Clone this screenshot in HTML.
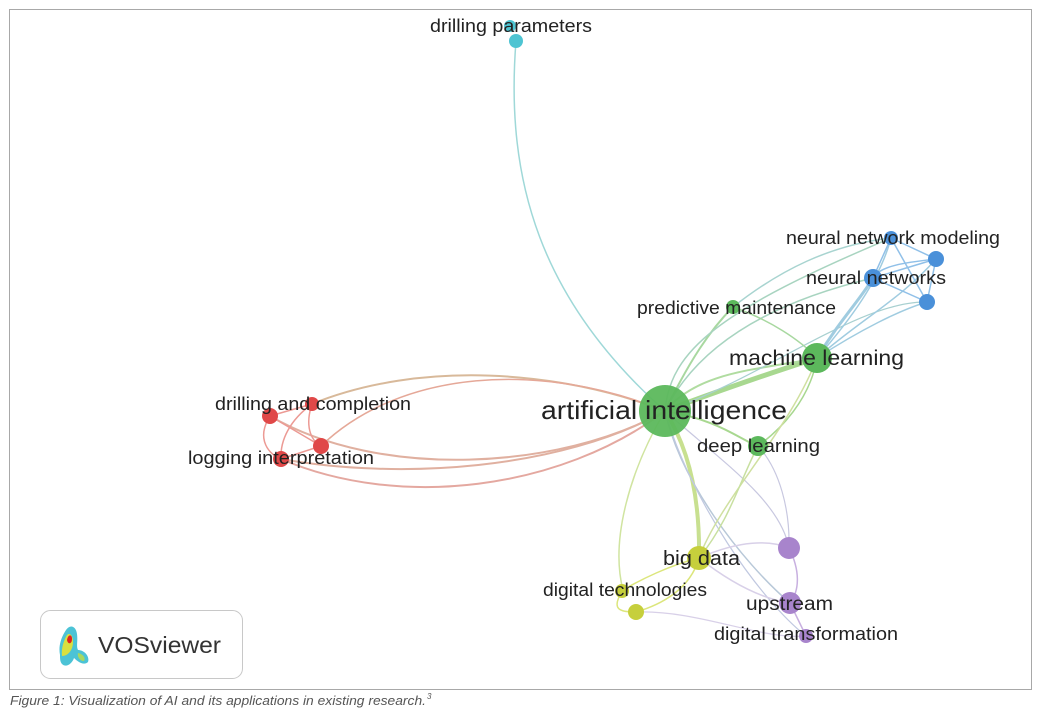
<!DOCTYPE html>
<html><head><meta charset="utf-8"><style>
html,body{margin:0;padding:0;background:#fff;}
body{width:1046px;height:720px;overflow:hidden;position:relative;font-family:"Liberation Sans",sans-serif;}
</style></head><body>
<svg width="1046" height="720" viewBox="0 0 1046 720" xmlns="http://www.w3.org/2000/svg" style="position:absolute;left:0;top:0">
<rect x="9.5" y="9.5" width="1022" height="680" fill="#fff" stroke="#a8a8a8" stroke-width="1"/>
<g fill="none" stroke-linecap="round">
<path d="M516,41 C505,180 540,300 665,411" stroke="#9fd8d8" stroke-width="1.5"/>
<path d="M312,404 C420,360 560,370 665,411" stroke="#d8b99a" stroke-width="2"/>
<path d="M321,446 C400,370 540,360 665,411" stroke="#e5a898" stroke-width="1.5"/>
<path d="M270,416 C380,480 560,470 665,411" stroke="#e0b0a0" stroke-width="2"/>
<path d="M281,459 C400,480 560,470 665,411" stroke="#e0b0a0" stroke-width="2"/>
<path d="M281,459 C400,510 560,490 665,411" stroke="#e4a8a0" stroke-width="2"/>
<path d="M270,416 L312,404 M270,416 L321,446 M270,416 C255,440 270,455 281,459 M312,404 C305,425 310,440 321,446 M312,404 C290,420 280,440 281,459 M321,446 L281,459" stroke="#ec9a94" stroke-width="1.5"/>
<path d="M665,411 C720,390 780,370 817,358" stroke="#a8d890" stroke-width="5"/>
<path d="M665,411 C700,370 760,370 817,358" stroke="#b0dca0" stroke-width="2"/>
<path d="M665,411 C690,360 710,330 733,307" stroke="#a8d8a0" stroke-width="2"/>
<path d="M665,411 C670,350 720,310 891,238" stroke="#a8d4c0" stroke-width="1.5"/>
<path d="M665,411 C700,340 780,300 873,278" stroke="#a8d4c0" stroke-width="1.5"/>
<path d="M665,411 C760,380 860,300 927,302" stroke="#a8d0d0" stroke-width="1.2"/>
<path d="M665,411 C720,420 740,440 758,446" stroke="#a8d890" stroke-width="2"/>
<path d="M665,411 C690,450 700,500 699,558" stroke="#c8e090" stroke-width="4"/>
<path d="M665,411 C630,470 610,540 623,590" stroke="#d0e4a0" stroke-width="1.5"/>
<path d="M665,411 C680,480 740,560 790,603" stroke="#b8c8d8" stroke-width="1.5"/>
<path d="M665,411 C690,500 760,600 806,636" stroke="#c0c8e0" stroke-width="1.2"/>
<path d="M665,411 C720,460 780,500 789,548" stroke="#c8c8e0" stroke-width="1.2"/>
<path d="M733,307 C770,320 800,340 817,358" stroke="#a8d8a0" stroke-width="1.5"/>
<path d="M733,307 C780,270 830,245 891,238" stroke="#a8d4d0" stroke-width="1.5"/>
<path d="M817,358 C810,400 780,430 758,446" stroke="#a8d890" stroke-width="1.5"/>
<path d="M817,358 C790,430 720,500 699,558" stroke="#d0e0a0" stroke-width="1.5"/>
<path d="M817,358 C840,320 860,300 873,278" stroke="#a0cce0" stroke-width="3"/>
<path d="M817,358 C850,320 880,280 891,238" stroke="#a0cce0" stroke-width="1.5"/>
<path d="M817,358 C860,320 900,300 936,259" stroke="#a0cce0" stroke-width="1.5"/>
<path d="M817,358 C860,330 900,310 927,302" stroke="#a0cce0" stroke-width="1.5"/>
<path d="M758,446 C740,480 730,520 699,558" stroke="#c8e0a0" stroke-width="1.5"/>
<path d="M758,446 C780,470 790,510 789,548" stroke="#c8c8e0" stroke-width="1.2"/>
<path d="M623,590 C610,610 620,612 636,612" stroke="#dce67c" stroke-width="1.5"/>
<path d="M699,558 C670,565 640,580 623,590" stroke="#dce67c" stroke-width="1.5"/>
<path d="M699,558 C690,590 660,605 636,612" stroke="#dce67c" stroke-width="1.5"/>
<path d="M699,558 C740,540 770,540 789,548" stroke="#d8d0e8" stroke-width="1.5"/>
<path d="M699,558 C740,590 770,600 790,603" stroke="#d8d0e8" stroke-width="1.5"/>
<path d="M789,548 C800,570 800,590 790,603 M790,603 L806,636" stroke="#c8b0e0" stroke-width="1.5"/>
<path d="M636,612 C700,610 760,640 806,636" stroke="#d8d0e8" stroke-width="1.2"/>
<path d="M891,238 L936,259 M891,238 L873,278 M891,238 L927,302 M873,278 L936,259 M873,278 L927,302 M936,259 L927,302 M873,278 C880,265 910,262 936,259" stroke="#90c0e8" stroke-width="1.5"/>
</g>
<g>
<circle cx="510" cy="26" r="6" fill="#4ec4d2"/>
<circle cx="516" cy="41" r="7" fill="#4ec4d2"/>
<circle cx="665" cy="411" r="26" fill="#5cb85c" opacity=".95"/>
<circle cx="817" cy="358" r="15" fill="#5cb85c"/>
<circle cx="733" cy="307" r="7" fill="#5cb85c"/>
<circle cx="758" cy="446" r="10" fill="#5cb85c"/>
<circle cx="891" cy="238" r="7" fill="#4a90d9"/>
<circle cx="936" cy="259" r="8" fill="#4a90d9"/>
<circle cx="873" cy="278" r="9" fill="#4a90d9"/>
<circle cx="927" cy="302" r="8" fill="#4a90d9"/>
<circle cx="270" cy="416" r="8" fill="#e04848"/>
<circle cx="312" cy="404" r="7" fill="#e04848"/>
<circle cx="321" cy="446" r="8" fill="#e04848"/>
<circle cx="281" cy="459" r="8" fill="#e04848"/>
<circle cx="699" cy="558" r="12" fill="#c6cf3c"/>
<circle cx="622" cy="591" r="7" fill="#c6cf3c"/>
<circle cx="636" cy="612" r="8" fill="#c6cf3c"/>
<circle cx="789" cy="548" r="11" fill="#a884cc"/>
<circle cx="790" cy="603" r="11" fill="#a884cc"/>
<circle cx="806" cy="636" r="7" fill="#a884cc"/>
</g>
<g font-family="'Liberation Sans',sans-serif" fill="#222" lengthAdjust="spacingAndGlyphs">
<text x="430" y="32" font-size="18" textLength="162" lengthAdjust="spacingAndGlyphs">drilling parameters</text>
<text x="541" y="419" font-size="26" textLength="246" lengthAdjust="spacingAndGlyphs">artificial intelligence</text>
<text x="729" y="365" font-size="21" textLength="175" lengthAdjust="spacingAndGlyphs">machine learning</text>
<text x="637" y="314" font-size="18" textLength="199" lengthAdjust="spacingAndGlyphs">predictive maintenance</text>
<text x="697" y="452" font-size="18" textLength="123" lengthAdjust="spacingAndGlyphs">deep learning</text>
<text x="786" y="244" font-size="18" textLength="214" lengthAdjust="spacingAndGlyphs">neural network modeling</text>
<text x="806" y="284" font-size="18" textLength="140" lengthAdjust="spacingAndGlyphs">neural networks</text>
<text x="215" y="410" font-size="18" textLength="196" lengthAdjust="spacingAndGlyphs">drilling and completion</text>
<text x="188" y="464" font-size="18" textLength="186" lengthAdjust="spacingAndGlyphs">logging interpretation</text>
<text x="663" y="565" font-size="20" textLength="77" lengthAdjust="spacingAndGlyphs">big data</text>
<text x="543" y="596" font-size="18" textLength="164" lengthAdjust="spacingAndGlyphs">digital technologies</text>
<text x="746" y="610" font-size="19" textLength="87" lengthAdjust="spacingAndGlyphs">upstream</text>
<text x="714" y="640" font-size="18" textLength="184" lengthAdjust="spacingAndGlyphs">digital transformation</text>
</g>
<rect x="40.5" y="610.5" width="202" height="68" rx="10" fill="#fff" stroke="#c8c8c8"/>
<g>
<path d="M60,655 C58,645 62,636 66,630 C70,624 76,626 77,634 C78,642 76,646 78,650 C84,650 90,656 88,662 C84,666 78,662 74,658 C72,664 66,668 62,664 C60,662 60,658 60,655Z" fill="#4cc3d6"/>
<path d="M62,656 C61,648 64,640 67,635 C70,632 73,636 73,642 C73,650 68,656 62,656Z" fill="#d8e040"/>
<path d="M67,640 C68,634 72,634 72,639 C72,644 68,645 67,640Z" fill="#e02020"/>
<path d="M78,653 C83,654 86,658 84,661 C80,661 77,657 78,653Z" fill="#a8d860"/>
</g>
<text x="98" y="653" font-family="'Liberation Sans',sans-serif" font-size="23" fill="#333" textLength="123" lengthAdjust="spacingAndGlyphs">VOSviewer</text>
<text x="10" y="705" font-family="'Liberation Sans',sans-serif" font-size="13" font-style="italic" fill="#555" textLength="416" lengthAdjust="spacingAndGlyphs">Figure 1: Visualization of AI and its applications in existing research.</text>
<text x="427" y="699" font-family="'Liberation Sans',sans-serif" font-size="8" font-style="italic" fill="#555">3</text>
</svg>
</body></html>
